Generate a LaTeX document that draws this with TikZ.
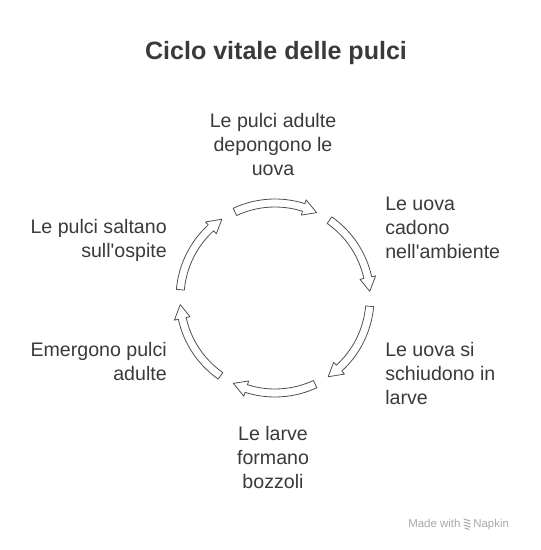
\documentclass[tikz,border=0pt]{standalone}
\usepackage{fontspec}
\setmainfont{Liberation Sans}
\usepackage{xcolor}
\usetikzlibrary{positioning}
\definecolor{txt}{HTML}{3A3A3A}
\definecolor{edge}{HTML}{505050}
\definecolor{creditgray}{HTML}{A8A8A8}
\begin{document}
\begin{tikzpicture}[
      x=0.75pt,y=-0.75pt,
      label/.style={text=txt,inner sep=0pt,font=\fontsize{14.7}{18}\selectfont},
      cyc/.style={draw=edge,fill=white,line width=0.6pt,line join=round},
      credit/.style={text=creditgray,inner sep=0pt,font=\fontsize{8.6}{10}\selectfont}
]
\useasboundingbox (0,0) rectangle (540,550);
\node[text=txt,font=\bfseries\fontsize{18.8}{22}\selectfont] (title) at (276,53) {Ciclo vitale delle pulci};
% cycle arrows
\begin{scope}[shift={(275,298)}]
\foreach \c in {90,30,-30,-90,-150,150}{
  \draw[cyc] (\c+25:74.25pt) arc[start angle=\c+25,end angle=\c-17.6,radius=74.25pt]
    -- (\c-17.6:77.25pt) -- (\c-26:71.25pt) -- (\c-17.6:65.25pt) -- (\c-17.6:68.25pt)
    arc[start angle=\c-17.6,end angle=\c+25,radius=68.25pt] -- cycle;
}
\end{scope}
\node[label,align=center] (lay) at (273,144) {Le pulci adulte\\depongono le\\uova};
\node[label,align=left,anchor=west] (fall) at (385,228) {Le uova\\cadono\\nell\textquotesingle ambiente};
\node[label,align=left,anchor=west] (hatch) at (385,373) {Le uova si\\schiudono in\\larve};
\node[label,align=center] (cocoon) at (273,457) {Le larve\\formano\\bozzoli};
\node[label,align=right,anchor=east] (emerge) at (167,361) {Emergono pulci\\adulte};
\node[label,align=right,anchor=east] (jump) at (167,240) {Le pulci saltano\\sull\textquotesingle ospite};
% credit
\node[credit,anchor=base west] (made) at (408,527) {Made with};
\node[credit,anchor=base west] (napkin) at (473,527) {Napkin};
\draw[creditgray,line width=0.8pt,line cap=round] (464,519) -- (470,521) (464,522) -- (470,524) (464,525) -- (470,527) (465,528) -- (469,529.5);
\end{tikzpicture}
\end{document}
